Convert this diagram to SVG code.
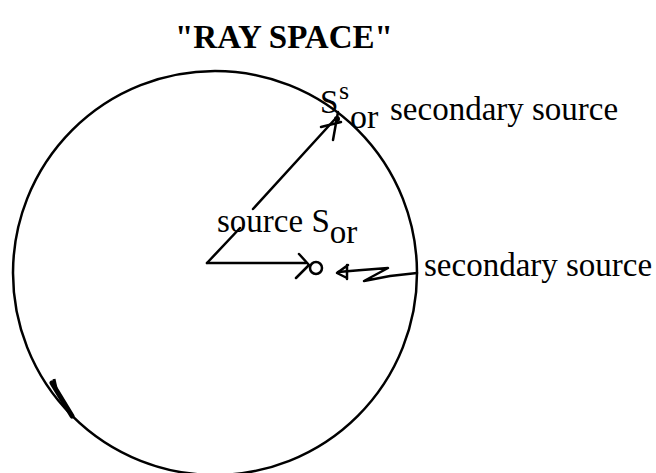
<svg xmlns="http://www.w3.org/2000/svg" width="656" height="473" viewBox="0 0 656 473">
<style>
.t{font-family:"Liberation Serif","Times New Roman",serif;font-size:33px;fill:#000}
.ln{fill:none;stroke:#000;stroke-width:2.5;stroke-linecap:round;stroke-linejoin:round}
</style>
<rect width="656" height="473" fill="#fff"/>
<g id="title"><text class="t" x="175" y="48" font-weight="bold" font-size="30.5">"RAY SPACE"</text></g>
<g id="ray-space"><circle class="ln" cx="215" cy="273" r="202"/>
<path d="M52,383 L72,416" stroke="#000" stroke-width="5" fill="none" stroke-linecap="round"/>
<path d="M54,379 L56,388" stroke="#000" stroke-width="3" fill="none"/></g>
<g id="source"><text class="t" x="217" y="232">source S<tspan dy="11">or</tspan></text></g>
<g id="secondary-top"><text class="t" x="320" y="113">S<tspan x="339" y="99" style="font-size:26px">s</tspan><tspan x="350" y="128" style="font-size:34px">or</tspan></text><text class="t" x="390" y="120">secondary source</text></g>
<g id="secondary-right"><circle class="ln" cx="316" cy="268" r="6"/><text class="t" x="424" y="276">secondary source</text></g>
<g id="connectors">
<path class="ln" d="M207,263 L240,228 M253,209 L336,118"/>
<path class="ln" d="M321,127 L341,122 M338,112 L333,140"/>
<circle cx="337" cy="119" r="3"/>
<path class="ln" d="M207,263 L306,263"/>
<path class="ln" d="M299,254 L309,265 L296,278"/>
<path class="ln" d="M417,273 L390,276 L364,281 L388,268 L362,270 L338,272"/>
<path class="ln" d="M348,265 L337,273 L347,278 M347,265 L347,279"/>
</g>
</svg>
